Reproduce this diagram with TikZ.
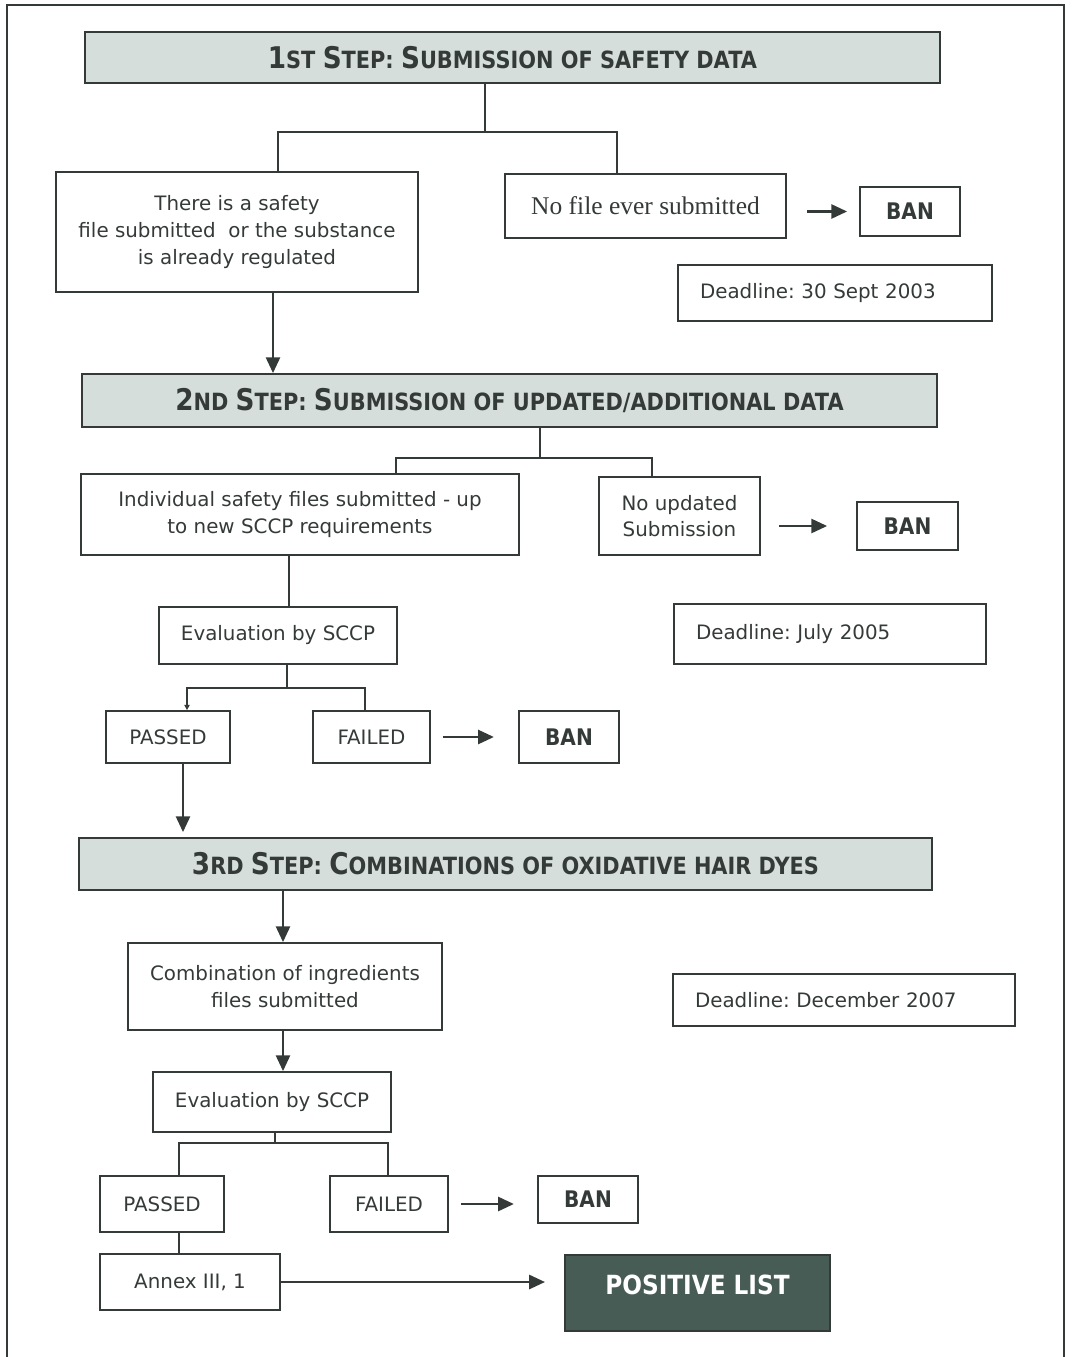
\documentclass[tikz,border=0pt]{standalone}
\usepackage{fontspec}
\setmainfont{DejaVu Sans}
\newfontfamily\headfont[FakeStretch=0.88]{DejaVu Sans}
\newfontfamily\serifbox{Liberation Serif}
\usetikzlibrary{arrows.meta}
\definecolor{headfill}{RGB}{214,222,220}
\definecolor{posfill}{RGB}{72,92,86}
\definecolor{ink}{RGB}{52,58,56}
\newcommand{\hcap}[1]{{\fontsize{17}{20}\selectfont #1}}
\frenchspacing

\begin{document}
\begin{tikzpicture}[every node/.style={text=ink},
	box/.style={draw=ink,line width=1pt,inner sep=0pt,align=center,font=\fontsize{11.3}{15.2}\selectfont},
	headbox/.style={box,fill=headfill,font=\headfont\bfseries\fontsize{13.5}{16}\selectfont},
	banbox/.style={box,font=\headfont\bfseries\fontsize{13}{15}\selectfont},
	dlbox/.style={box,align=left,inner xsep=0.44cm},
	posbox/.style={box,fill=posfill,text=white,text depth=0.32cm,font=\headfont\bfseries\fontsize{15}{18}\selectfont},
	conn/.style={draw=ink,line width=1pt},
	arr/.style={conn,line width=1.4pt,-{Triangle[length=9pt,width=8pt]}}]
	\useasboundingbox (0,0) rectangle (21.48,-27.14);
	\draw[conn] (0.14,-27.14) -- (0.14,-0.1) -- (21.28,-0.1) -- (21.28,-27.14);

	\node[headbox,minimum width=17.1cm,minimum height=1.02cm] (h1) at (10.25,-1.15) {\hcap{1}ST \hcap{S}TEP: \hcap{S}UBMISSION OF SAFETY DATA};
	\node[box,minimum width=7.24cm,minimum height=2.4cm] (file) at (4.74,-4.64) {There is a safety\\file submitted\ \ or the substance\\is already regulated};
	\node[box,minimum width=5.62cm,minimum height=1.28cm,font=\serifbox\fontsize{14.5}{17}\selectfont] (nofile) at (12.91,-4.12) {No file ever submitted};
	\node[banbox,minimum width=2cm,minimum height=0.98cm] (ban1) at (18.2,-4.23) {BAN};
	\node[dlbox,text width=5.4cm,minimum height=1.12cm] (dl1) at (16.7,-5.86) {Deadline: 30 Sept 2003};

	\node[headbox,minimum width=17.1cm,minimum height=1.06cm] (h2) at (10.19,-8.01) {\hcap{2}ND \hcap{S}TEP: \hcap{S}UBMISSION OF UPDATED/ADDITIONAL DATA};
	\node[box,minimum width=8.76cm,minimum height=1.62cm] (indiv) at (6.0,-10.29) {Individual safety files submitted - up\\to new SCCP requirements};
	\node[box,minimum width=3.22cm,minimum height=1.56cm] (noupd) at (13.59,-10.32) {No updated\\Submission};
	\node[banbox,minimum width=2.02cm,minimum height=0.96cm] (ban2) at (18.15,-10.52) {BAN};
	\node[box,minimum width=4.76cm,minimum height=1.14cm] (eval1) at (5.56,-12.71) {Evaluation by SCCP};
	\node[dlbox,text width=5.36cm,minimum height=1.2cm] (dl2) at (16.6,-12.68) {Deadline: July 2005};
	\node[box,minimum width=2.48cm,minimum height=1.04cm] (pass1) at (3.36,-14.74) {PASSED};
	\node[box,minimum width=2.34cm,minimum height=1.04cm] (fail1) at (7.43,-14.74) {FAILED};
	\node[banbox,minimum width=2cm,minimum height=1.04cm] (ban3) at (11.38,-14.74) {BAN};

	\node[headbox,minimum width=17.06cm,minimum height=1.04cm] (h3) at (10.11,-17.28) {\hcap{3}RD \hcap{S}TEP: \hcap{C}OMBINATIONS OF OXIDATIVE HAIR DYES};
	\node[box,minimum width=6.28cm,minimum height=1.74cm] (comb) at (5.7,-19.73) {Combination of ingredients\\files submitted};
	\node[dlbox,text width=5.96cm,minimum height=1.04cm] (dl3) at (16.88,-20.0) {Deadline: December 2007};
	\node[box,minimum width=4.76cm,minimum height=1.2cm] (eval2) at (5.44,-22.04) {Evaluation by SCCP};
	\node[box,minimum width=2.48cm,minimum height=1.12cm] (pass2) at (3.24,-24.08) {PASSED};
	\node[box,minimum width=2.36cm,minimum height=1.12cm] (fail2) at (7.78,-24.08) {FAILED};
	\node[banbox,minimum width=2cm,minimum height=0.94cm] (ban4) at (11.76,-23.99) {BAN};
	\node[box,minimum width=3.6cm,minimum height=1.12cm] (annex) at (3.8,-25.64) {Annex III, 1};
	\node[posbox,minimum width=5.3cm,minimum height=1.52cm] (pos) at (13.95,-25.86) {POSITIVE LIST};

	\coordinate (s1) at (9.7,-2.64);
	\coordinate (s1l) at (5.56,-2.64);
	\coordinate (s1r) at (12.34,-2.64);
	\coordinate (s2) at (10.8,-9.16);
	\coordinate (s2l) at (7.92,-9.16);
	\coordinate (s2r) at (13.04,-9.16);
	\coordinate (s3) at (5.74,-13.76);
	\coordinate (s3l) at (3.74,-13.76);
	\coordinate (s3r) at (7.3,-13.76);
	\coordinate (s4) at (5.5,-22.86);
	\coordinate (s4l) at (3.58,-22.86);
	\coordinate (s4r) at (7.76,-22.86);
	\coordinate (a1) at (5.46,0);
	\coordinate (a2) at (5.78,0);
	\coordinate (a3) at (3.66,0);
	\coordinate (a4) at (5.66,0);
	\coordinate (a5) at (10.9,0);

	\draw[conn] (h1.south -| s1) -- (s1);
	\draw[conn] (file.north -| s1l) |- (s1r) -- (nofile.north -| s1r);
	\draw[arr] ([xshift=-1.04cm]ban1.west) -- ++(0.8,0);
	\draw[arr] (file.south -| a1) -- (h2.north -| a1);

	\draw[conn] (h2.south -| s2) -- (s2);
	\draw[conn] (indiv.north -| s2l) |- (s2r) -- (noupd.north -| s2r);
	\draw[arr] ([xshift=-1.54cm]ban2.west) -- ++(0.96,0);
	\draw[conn] (indiv.south -| a2) -- (eval1.north -| a2);
	\draw[conn] (eval1.south -| s3) -- (s3);
	\draw[conn,-{Triangle[length=3pt,width=3pt]}] (fail1.north -| s3r) |- (s3l) -- (pass1.north -| s3l);
	\draw[arr] ([xshift=0.24cm]fail1.east) -- ++(1.02,0);
	\draw[arr,shorten >=0.1cm] (pass1.south -| a3) -- (h3.north -| a3);

	\draw[arr] (h3.south -| a4) -- (comb.north -| a4);
	\draw[arr] (comb.south -| a4) -- (eval2.north -| a4);
	\draw[conn] (eval2.south -| s4) -- (s4);
	\draw[conn] (pass2.north -| s4l) |- (s4r) -- (fail2.north -| s4r);
	\draw[arr] ([xshift=0.24cm]fail2.east) -- ++(1.06,0);
	\draw[conn] (pass2.south -| s4l) -- (annex.north -| s4l);
	\draw[arr] (annex.east) -- (annex.east -| a5);
\end{tikzpicture}
\end{document}
